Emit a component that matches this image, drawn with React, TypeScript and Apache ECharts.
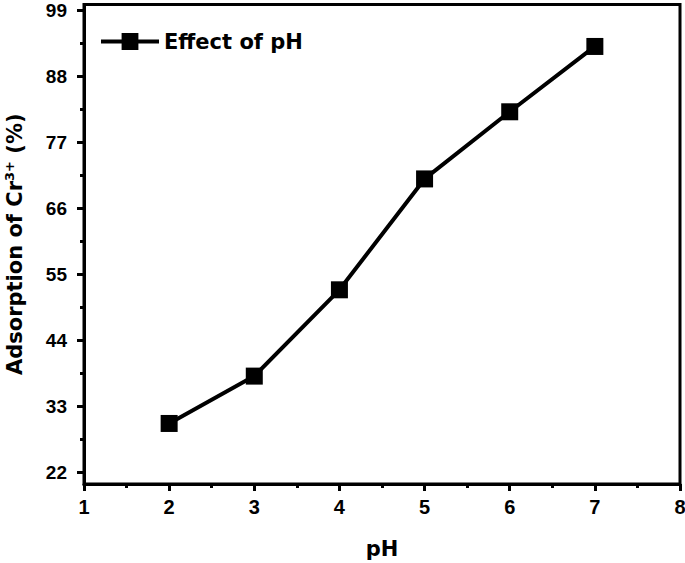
import React, { useEffect, useRef } from "react";
import * as echarts from "echarts";

const pH = [2, 3, 4, 5, 6, 7];
const adsorption = [30.1, 38.0, 52.4, 70.9, 82.1, 93.0];
const yTickMin = 22;
const yTickMax = 99;
const yTickStep = 11;
const seriesName = "Effect of pH";

const FONT = "DejaVu Sans";
const TICKFONT = "Liberation Sans";

const Y_MIN = 20;
const Y_MAX = 100;
const GRID_TOP = 4.5;
const GRID_BOTTOM = 79;
const PLOT_H = 563 - GRID_TOP - GRID_BOTTOM;
const PX_PER_UNIT = PLOT_H / (Y_MAX - Y_MIN);

export default function App() {
  const ref = useRef<HTMLDivElement>(null);
  useEffect(() => {
    if (!ref.current) return;
    const chart = echarts.init(ref.current, null, { renderer: "svg" });
    const black = "#000";
    chart.setOption({
      animation: false,
      backgroundColor: "#fff",
      grid: [
        {
          left: 84,
          right: 5,
          top: GRID_TOP,
          bottom: GRID_BOTTOM,
          show: true,
          borderColor: black,
          borderWidth: 3,
          containLabel: false,
          outerBoundsMode: "none",
        },
        {
          left: 84,
          right: 5,
          top: GRID_TOP + (Y_MAX - yTickMax) * PX_PER_UNIT,
          bottom: GRID_BOTTOM + (yTickMin - Y_MIN) * PX_PER_UNIT,
          show: false,
          containLabel: false,
          outerBoundsMode: "none",
        },
      ],
      legend: {
        data: [seriesName],
        left: 99,
        top: 31,
        padding: 0,
        itemWidth: 58,
        itemHeight: 21,
        lineStyle: { width: 4, color: black },
        textStyle: { fontFamily: FONT, fontWeight: "bold", fontSize: 21, color: black },
      },
      xAxis: [
        {
          gridIndex: 0,
          type: "value",
          min: 1,
          max: 8,
          interval: 1,
          name: "pH",
          nameLocation: "middle",
          nameGap: 54,
          nameTextStyle: { fontFamily: FONT, fontWeight: "bold", fontSize: 21, color: black },
          axisLine: { show: true, lineStyle: { color: black, width: 3 } },
          axisTick: { show: true, inside: false, length: 7, lineStyle: { color: black, width: 3 } },
          minorTick: { show: true, splitNumber: 2, length: 4, lineStyle: { color: black, width: 3 } },
          axisLabel: { fontFamily: TICKFONT, fontWeight: "bold", fontSize: 20, color: black, margin: 13 },
          splitLine: { show: false },
        },
        { gridIndex: 1, type: "value", min: 1, max: 8, show: false },
      ],
      yAxis: [
        {
          gridIndex: 0,
          type: "value",
          min: Y_MIN,
          max: Y_MAX,
          position: "left",
          name: "{m|Adsorption of Cr}{s|3+}{m| (%)}",
          nameLocation: "middle",
          nameGap: 58,
          nameTextStyle: {
            fontFamily: FONT,
            fontWeight: "bold",
            fontSize: 21,
            color: black,
            rich: {
              m: { fontFamily: FONT, fontWeight: "bold", fontSize: 21, color: black },
              s: { fontFamily: FONT, fontWeight: "bold", fontSize: 13, color: black, padding: [0, 0, 10, 0] },
            },
          },
          axisLine: { show: true, lineStyle: { color: black, width: 3 } },
          axisTick: { show: false },
          axisLabel: { show: false },
          splitLine: { show: false },
        },
        {
          gridIndex: 1,
          type: "value",
          min: yTickMin,
          max: yTickMax,
          interval: yTickStep,
          position: "left",
          axisLine: { show: false },
          axisTick: { show: true, length: 7, lineStyle: { color: black, width: 3 } },
          minorTick: { show: true, splitNumber: 2, length: 4, lineStyle: { color: black, width: 3 } },
          axisLabel: { fontFamily: TICKFONT, fontWeight: "bold", fontSize: 19, color: black, margin: 17 },
          splitLine: { show: false },
        },
      ],
      series: [
        {
          name: seriesName,
          type: "line",
          xAxisIndex: 0,
          yAxisIndex: 0,
          data: pH.map((x, i) => [x, adsorption[i]]),
          symbol: "rect",
          symbolSize: 17,
          lineStyle: { color: black, width: 4 },
          itemStyle: { color: black },
        },
      ],
    });
    return () => chart.dispose();
  }, []);
  return <div ref={ref} style={{ width: 685, height: 563, position: "absolute", left: 0, top: 0 }} />;
}
